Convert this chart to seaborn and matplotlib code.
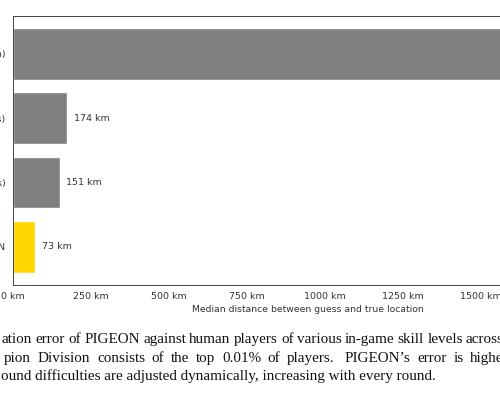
import matplotlib
matplotlib.use("Agg")
import matplotlib.pyplot as plt
import seaborn as sns
import pandas as pd

players = ["Average Player (Gold Division)",
           "Master Division (Top Players)",
           "Champion Division (Top 0.01% Players)",
           "PIGEON"]
distances = [1802, 174, 151, 73]
bar_colors = ["#7f7f7f", "#7f7f7f", "#7f7f7f", "#ffd700"]
x_ticks = [0, 250, 500, 750, 1000, 1250, 1500, 1750]
x_label = "Median distance between guess and true location"
caption_lines = [
    "ation error of PIGEON against human players of various in-game skill levels across 5 rounds.",
    "pion Division consists of the top 0.01% of players. PIGEON\u2019s error is higher in later rounds",
    "ound difficulties are adjusted dynamically, increasing with every round.",
]

sns.set_style("white")
plt.rcParams["font.family"] = ["DejaVu Sans"]

df = pd.DataFrame({"player": players, "distance": distances})

fig = plt.figure(figsize=(5, 4), dpi=100)
ax = fig.add_axes([0.0254, 0.288, 1.181, 0.6723])

sns.barplot(data=df, x="distance", y="player", hue="player",
            palette=bar_colors, saturation=1, legend=False,
            orient="h", width=0.8, ax=ax)

ax.set_xlim(0, 1892)
ax.set_ylim(3.59, -0.59)
ax.set_xticks(x_ticks)
ax.set_xticklabels([f"{t} km" for t in x_ticks])
ax.set_xlabel(x_label, fontsize=6.7, color="#333333", labelpad=3)
ax.set_ylabel("")
ax.tick_params(axis="both", labelsize=6.8, colors="#333333",
               length=2.8, width=0.6, pad=2.5)
for side in ["top", "bottom", "left", "right"]:
    ax.spines[side].set_visible(True)
    ax.spines[side].set_color("#444444")
    ax.spines[side].set_linewidth(0.7)

for i, d in enumerate(distances):
    ax.text(d + 21, i, f"{d} km", va="center", ha="left",
            fontsize=6.8, color="#333333")

# Caption (justified lines: anchor word index -> target x in pixels)
serif = ["Liberation Serif", "DejaVu Serif"]
cap_size = 10.9
baselines = [342.7, 361.7, 380.0]
starts = [2, 4, 1]
anchors = [(12, 466), (12, 470), None]
renderer = fig.canvas.get_renderer()

def word_width(w):
    t = fig.text(0, 0, w, fontsize=cap_size, family=serif)
    wd = t.get_window_extent(renderer=renderer).width
    t.remove()
    return wd

space_w = word_width("a b") - word_width("ab")
for line, yb, xs, anc in zip(caption_lines, baselines, starts, anchors):
    yf = 1 - yb / 400
    if anc is None:
        fig.text(xs / 500, yf, line, ha="left", va="baseline",
                 fontsize=cap_size, family=serif, color="#111111")
        continue
    words = line.split(" ")
    widths = [word_width(w) for w in words]
    idx, target = anc
    natural = xs + sum(widths[:idx])
    weights = [1.5 if words[k].endswith(".") else 1.0 for k in range(idx)]
    gap_unit = max((target - natural) / sum(weights), 0.85 * space_w)
    x = xs
    for k, w in enumerate(words):
        fig.text(x / 500, yf, w, ha="left", va="baseline",
                 fontsize=cap_size, family=serif, color="#111111")
        g = 1.5 if w.endswith(".") else 1.0
        x += widths[k] + gap_unit * g

fig.savefig("out.png", dpi=100)
